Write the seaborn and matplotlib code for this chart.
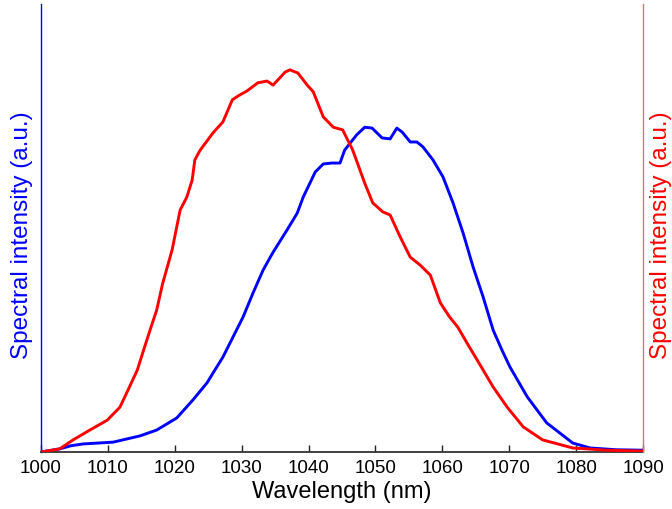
import matplotlib
matplotlib.use("Agg")
import matplotlib.pyplot as plt
import seaborn as sns
import pandas as pd

sns.set_style("white")
plt.rcParams['font.family'] = ['Liberation Sans', 'DejaVu Sans']

# Red spectrum
red_wl = [1000, 1002.8, 1004.8, 1007.3, 1009.9, 1011.8, 1013.0, 1014.4, 1015.2, 1016.3,
          1017.3, 1018.2, 1019.6, 1020.8, 1021.8, 1022.6, 1023.0, 1023.8, 1025.7, 1027.2,
          1028.6, 1029.5, 1030.8, 1032.4, 1033.8, 1034.7, 1036.5, 1037.2, 1038.4, 1039.8,
          1040.7, 1042.2, 1043.7, 1045.1, 1046.6, 1048.4, 1049.6, 1051.1, 1052.2, 1053.7,
          1055.2, 1056.7, 1058.2, 1059.7, 1061.1, 1062.3, 1063.7, 1066.1, 1067.6, 1069.7,
          1072.1, 1075.0, 1079.5, 1084.6, 1090]
red_int = [0.0, 0.007, 0.027, 0.049, 0.071, 0.100, 0.138, 0.183, 0.221, 0.272,
           0.317, 0.377, 0.451, 0.540, 0.569, 0.607, 0.652, 0.674, 0.712, 0.737,
           0.786, 0.795, 0.806, 0.824, 0.828, 0.819, 0.848, 0.853, 0.846, 0.819,
           0.804, 0.748, 0.725, 0.719, 0.674, 0.600, 0.556, 0.536, 0.529, 0.480,
           0.435, 0.417, 0.395, 0.333, 0.301, 0.279, 0.243, 0.183, 0.145, 0.100,
           0.056, 0.027, 0.009, 0.004, 0.002]

# Blue spectrum
blue_wl = [1000, 1002.8, 1004.5, 1006.3, 1010.8, 1014.8, 1017.3, 1020.3, 1022.7, 1024.8,
           1027.2, 1030.2, 1031.7, 1033.2, 1034.7, 1036.8, 1038.3, 1039.2, 1040.2, 1041.0,
           1042.2, 1043.5, 1044.7, 1045.4, 1047.2, 1048.4, 1049.5, 1051.0, 1052.2, 1053.2,
           1054.0, 1055.2, 1056.2, 1057.1, 1058.6, 1060.1, 1061.6, 1063.1, 1064.6, 1066.1,
           1067.6, 1068.9, 1070.1, 1072.7, 1075.6, 1079.5, 1082.1, 1086.0, 1090]
blue_int = [0.0, 0.007, 0.014, 0.018, 0.022, 0.036, 0.049, 0.076, 0.116, 0.154,
            0.212, 0.301, 0.355, 0.406, 0.446, 0.496, 0.533, 0.569, 0.600, 0.625,
            0.643, 0.645, 0.645, 0.674, 0.708, 0.725, 0.723, 0.701, 0.699, 0.723,
            0.714, 0.692, 0.692, 0.681, 0.652, 0.614, 0.556, 0.489, 0.413, 0.346,
            0.272, 0.228, 0.190, 0.123, 0.065, 0.020, 0.009, 0.005, 0.004]

xticks = list(range(1000, 1091, 10))

df_blue = pd.DataFrame({"wl": blue_wl, "I": blue_int})
df_red = pd.DataFrame({"wl": red_wl, "I": red_int})

fig = plt.figure(figsize=(6.72, 5.09), dpi=100)
ax = fig.add_axes([41/672, 1-452/509, (643-41)/672, (452-4)/509])
ax2 = ax.twinx()

sns.lineplot(data=df_blue, x="wl", y="I", ax=ax, color="#0000ff", linewidth=2.1)
sns.lineplot(data=df_red, x="wl", y="I", ax=ax2, color="#ff0000", linewidth=2.1)

for a in (ax, ax2):
    a.set_xlim(1000, 1090)
    a.set_ylim(0, 1)
    a.set_yticks([])
    a.spines['top'].set_visible(False)

ax.spines['left'].set_color("#0000ff")
ax.spines['left'].set_linewidth(1.0)
ax.spines['right'].set_visible(False)
ax.spines['bottom'].set_color("#333333")
ax.spines['bottom'].set_linewidth(1.3)
ax2.spines['left'].set_visible(False)
ax2.spines['bottom'].set_visible(False)
ax2.spines['right'].set_color("#ff6666")
ax2.spines['right'].set_linewidth(1.0)

ax.set_xticks(xticks)
ax.set_xticklabels([str(t) for t in xticks])
ax.tick_params(axis='x', direction='in', length=5, width=1.0, colors='#222222',
               labelsize=13.5, pad=6, bottom=True)
for lbl in ax.get_xticklabels():
    lbl.set_color('black')

ax.set_xlabel("Wavelength (nm)", fontsize=17, color="black")
ax.xaxis.label.set_va('center')
ax.xaxis.set_label_coords(0.5, (452-492)/448)

ax.set_ylabel("Spectral intensity (a.u.)", fontsize=17.5, color="#0000ff")
ax.yaxis.label.set_va('center')
ax.yaxis.label.set_ha('center')
ax.yaxis.set_label_coords((22-41)/602, (452-235)/448)

ax2.set_ylabel("Spectral intensity (a.u.)", fontsize=17.5, color="#ff0000", rotation=90)
ax2.yaxis.label.set_va('center')
ax2.yaxis.label.set_ha('center')
ax2.yaxis.set_label_coords((661-41)/602, (452-235)/448)

fig.savefig("out.png", dpi=100)
